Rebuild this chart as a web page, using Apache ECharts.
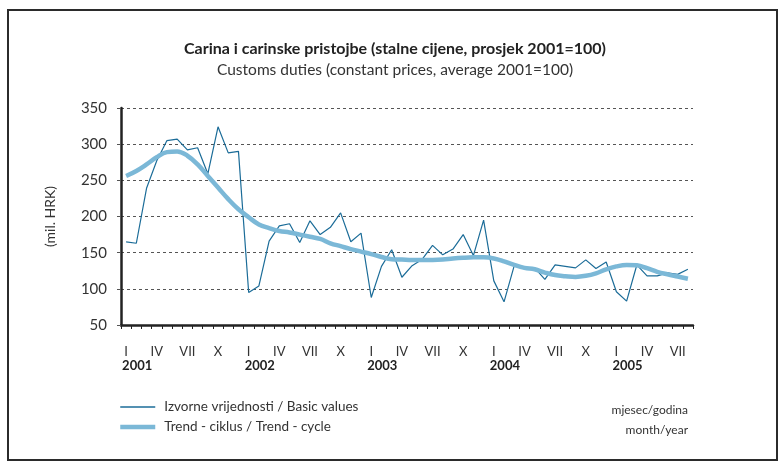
<!DOCTYPE html>
<html>
<head>
<meta charset="utf-8">
<script src="https://cdn.jsdelivr.net/npm/echarts@6/dist/echarts.min.js"></script>
<style>
  html, body { margin: 0; padding: 0; background: #fff; }
  #chart { position: absolute; left: 0; top: 0; width: 781px; height: 463px; }
  #frame { position: absolute; left: 7px; top: 9px; width: 767px; height: 448px;
           border: 2.5px solid #2b2b2b; pointer-events: none; }
</style>
</head>
<body>
<div id="chart"></div>
<div id="frame"></div>
<script>
  // month labels (roman numerals), years
  const romans = ['I', 'II', 'III', 'IV', 'V', 'VI', 'VII', 'VIII', 'IX', 'X', 'XI', 'XII'];
  const years = ['2001', '2002', '2003', '2004', '2005'];
  const monthCount = 56; // I 2001 - VIII 2005

  // Izvorne vrijednosti / Basic values
  const basicValues = [
    165, 163, 239, 277, 305, 307, 292, 295, 259, 324, 288, 290,
    95, 104, 166, 187, 190, 164, 194, 175, 185, 205, 165, 177,
    88, 131, 154, 116, 132, 141, 160, 147, 155, 175, 146, 195,
    111, 82, 132, 128, 129, 113, 133, 131, 129, 140, 128, 137,
    96, 83, 133, 118, 118, 122, 120, 127
  ];

  // Trend - ciklus / Trend - cycle
  const trendValues = [
    256, 263, 272, 282, 289, 290, 284, 272, 256, 240, 224, 210,
    199, 189, 184, 180, 178, 175, 172, 169, 163, 159, 155, 151.5,
    148, 144, 141, 140.5, 140, 140, 140, 140.5, 142, 143, 143.5, 143.5,
    142, 138, 133, 129, 127, 122.5, 119, 117.5, 116.5, 118, 121.5, 127,
    131, 133, 132.5, 128.5, 123.5, 120, 117, 114
  ];

  const yTicks = [50, 100, 150, 200, 250, 300, 350];

  const monthLabels = [];
  const yearLabels = [];
  for (let i = 0; i < monthCount; i++) {
    monthLabels.push(romans[i % 12]);
    yearLabels.push(years[Math.floor(i / 12)]);
  }

  const font = 'Lato, "Open Sans", sans-serif';
  const chart = echarts.init(document.getElementById('chart'));

  const option = {
    backgroundColor: '#fff',
    textStyle: { fontFamily: font },
    title: {
      text: 'Carina i carinske pristojbe (stalne cijene, prosjek 2001=100)',
      subtext: 'Customs duties (constant prices, average 2001=100)',
      left: 390,
      textAlign: 'center',
      top: 36,
      itemGap: 5,
      textStyle: { fontFamily: font, fontSize: 16, fontWeight: 'bold', color: '#222' },
      subtextStyle: { fontFamily: font, fontSize: 15.5, color: '#333' }
    },
    legend: {
      orient: 'vertical',
      left: 118,
      top: 400,
      itemGap: 6,
      itemWidth: 35,
      itemHeight: 14,
      padding: 0,
      itemStyle: { opacity: 0 },
      textStyle: { fontFamily: font, fontSize: 13.5, color: '#333', padding: [0, 0, 0, 4] },
      data: [
        { name: 'Izvorne vrijednosti / Basic values', lineStyle: { width: 1.5 } },
        { name: 'Trend - ciklus / Trend - cycle', lineStyle: { width: 4.5 } }
      ]
    },
    grid: { left: 121, right: 88, top: 108, bottom: 138, containLabel: false },
    xAxis: [{
      type: 'category',
      data: monthLabels,
      boundaryGap: true,
      axisLine: { lineStyle: { color: '#222', width: 2.5 } },
      axisTick: { show: true, interval: 0, length: 4, lineStyle: { color: '#222', width: 1 } },
      axisLabel: {
        interval: (idx) => idx % 3 === 0,
        margin: 20,
        fontSize: 13,
        color: '#333',
        fontFamily: font
      },
      splitLine: { show: false }
    }, {
      type: 'category',
      data: yearLabels,
      boundaryGap: true,
      position: 'bottom',
      axisLine: { show: false },
      axisTick: { show: false },
      axisLabel: {
        interval: (idx) => idx % 12 === 0,
        align: 'left',
        margin: 34,
        fontSize: 13,
        fontWeight: 'bold',
        color: '#222',
        fontFamily: font,
        padding: [0, 0, 0, -4]
      },
      splitLine: { show: false }
    }],
    yAxis: {
      type: 'value',
      min: yTicks[0],
      max: yTicks[yTicks.length - 1],
      interval: 50,
      name: '(mil. HRK)',
      nameLocation: 'middle',
      nameGap: 64,
      nameTextStyle: { fontFamily: font, fontSize: 14, color: '#333' },
      axisLine: { show: true, lineStyle: { color: '#222', width: 2.5 } },
      axisTick: { show: true, length: 4, lineStyle: { color: '#555', width: 1 } },
      axisLabel: { margin: 14, fontSize: 15, color: '#333', fontFamily: font },
      splitLine: { show: true, lineStyle: { color: '#555', width: 1, type: [3, 3] } }
    },
    graphic: [{
      type: 'text',
      right: 93,
      top: 404,
      style: { text: 'mjesec/godina', fontFamily: font, fontSize: 12, fill: '#333', align: 'right' }
    }, {
      type: 'text',
      right: 93,
      top: 424,
      style: { text: 'month/year', fontFamily: font, fontSize: 12, fill: '#333', align: 'right' }
    }],
    series: [{
      name: 'Izvorne vrijednosti / Basic values',
      type: 'line',
      data: basicValues,
      symbol: 'none',
      lineStyle: { color: '#1b6c98', width: 1.2 },
      itemStyle: { color: '#1b6c98' },
      z: 2
    }, {
      name: 'Trend - ciklus / Trend - cycle',
      type: 'line',
      data: trendValues,
      symbol: 'none',
      smooth: 0.4,
      lineStyle: { color: '#7bb8d7', width: 4.5 },
      itemStyle: { color: '#7bb8d7' },
      z: 3
    }]
  };

  chart.setOption(option);
</script>
</body>
</html>
